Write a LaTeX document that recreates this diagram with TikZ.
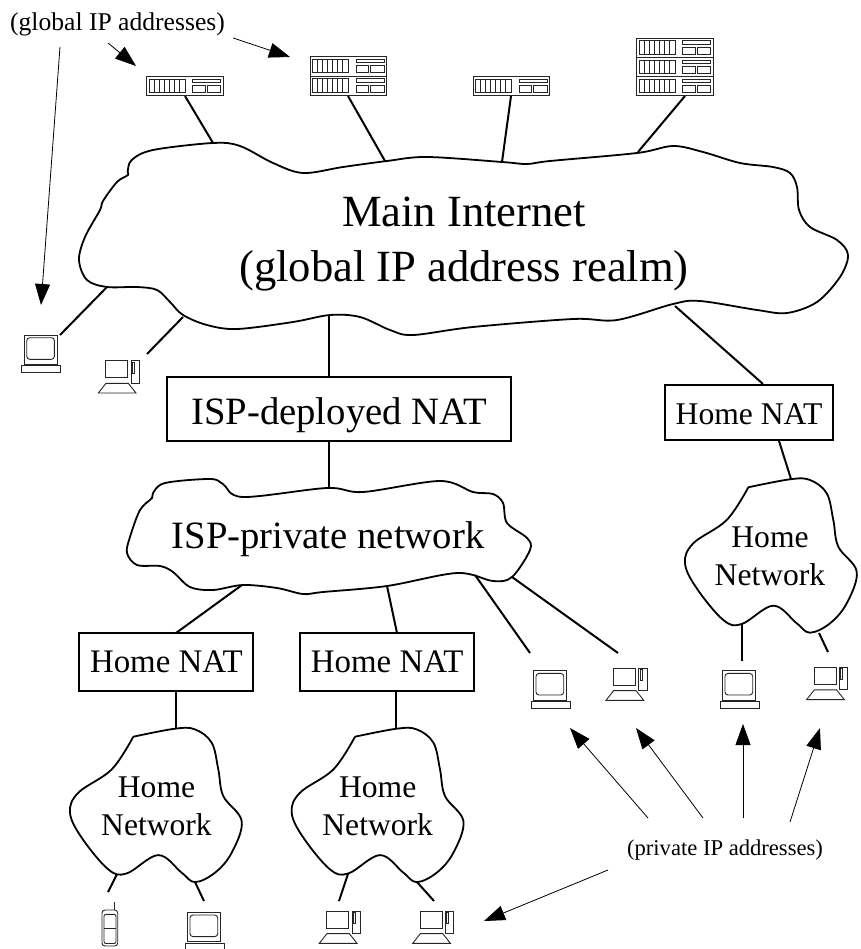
\documentclass[tikz,border=0pt]{standalone}
\usepackage{fontspec}
\setmainfont{Liberation Serif}
\usetikzlibrary{arrows.meta}
\tikzset{
  link/.style={line width=2pt,black},
  cloud line/.style={line width=1.8pt,black},
  note arrow/.style={line width=0.8pt,-{Triangle[length=21pt,width=15pt]},shorten >=0pt},
  natbox/.style={draw,line width=1.8pt,minimum height=58pt,inner sep=0pt,fill=white},
  label big/.style={anchor=base,inner sep=0pt,font=\fontsize{44.6}{48}\selectfont},
  label mid/.style={anchor=base,inner sep=0pt,font=\fontsize{38.7}{42}\selectfont},
  label nat/.style={anchor=base,inner sep=0pt,font=\fontsize{31.6}{34}\selectfont},
  label natb/.style={anchor=base,inner sep=0pt,font=\fontsize{32.9}{35}\selectfont},
  label note/.style={anchor=base,inner sep=0pt,font=\fontsize{25.6}{28}\selectfont},
  icon line/.style={line width=0.9pt,black!85},
  pics/rackunit/.style={code={
    \draw[icon line] (0,0) rectangle (76.5,19.3);
    \draw[icon line] (2.5,2.7) rectangle (38.5,16);
    \foreach \vx in {7.5,12.5,17.5,22.5,27.5,32.5}{\draw[icon line] (\vx,2.7) -- (\vx,16);}
    \draw[icon line] (46,2.7) rectangle (74,6);
    \draw[icon line] (46,9) rectangle (58.3,16);
    \draw[icon line] (60.5,9) rectangle (74,16);
  }},
  pics/termbox/.style={code={
    \draw[icon line] (2.3,0) rectangle (35.7,29.3);
    \draw[icon line,rounded corners=3pt] (5,2.7) rectangle (32.7,24.3);
    \draw[icon line] (0,30.7) rectangle (39,37.3);
  }},
  pics/desktop/.style={code={
    \draw[icon line] (7.4,0) rectangle (29.4,17);
    \draw[icon line] (32.7,0) rectangle (41,22.3);
    \draw[icon line] (34,1.6) rectangle (36,12.6);
    \draw[icon line] (0,32.3) -- (7.7,22.6) -- (30,22.6) -- (37.7,32.3) -- cycle;
  }},
  pics/phone/.style={code={
    \draw[icon line] (12.3,-8.3) -- (12.3,0);
    \draw[icon line,rounded corners=3pt] (0,0) rectangle (15.7,36);
    \draw[icon line,rounded corners=2pt] (2,4.3) rectangle (14,33.5);
    \draw[icon line] (2,18.3) -- (14,18.3);
  }},
}
\newcommand{\homecloud}{plot[smooth,tension=0.6] coordinates{
 (88.3,27.3) (130,19.3) (150,20) (166.7,33.3) (173.3,60) (178.3,86.7) (196.7,111.7)
 (186.7,143.3) (170,163.3) (150,172.7) (136.7,163.3) (113.3,145.7) (81.7,164) (63.3,160)
 (36.7,128.3) (25,103.3) (33.3,83.3) (66.7,60) (88.3,27.3)}}
\begin{document}
\begin{tikzpicture}[x=1pt,y=-1pt]
\useasboundingbox (0,0) rectangle (860,949);

% named connector ends
\foreach \nm/\px/\py in {
 s1/185/96, s1c/213/143, s2/348/96, s2c/385/161, s3/511/96, s3c/502/162, s4/685/96, s4c/638/152,
 la/60/335, lac/107/287, lb/147/354, lbc/183/317,
 ia/329/316, ib/329/377, ic/329/441, id/329/488,
 ha/675/306, hb/763/384, hc/779/441, hd/791/479,
 he/742/624, hf/742/661, hg/819/633, hh/828/652,
 pa/242/585, pb/176/633, pc/387/586, pd/397/633, pe/475/575, pf/530/653, pg/512/577, ph/618/653,
 qa/175.7/690, qb/175.7/728, qc/396/690, qd/396/728,
 ra/117/874, rb/108/892, rc/195/882, rd/204/901, re/348/874, rf/339/901, rg/417/882, rh/434/901,
 ga/60/47, gb/41/305, gc/108/43, gd/136/66, ge/233/38, gf/290/57,
 na/648/818, nb/570/728, nc/703/818, nd/636/728, ne/743/818, nf/743/724, ng/790/822, nh/820/728,
 ni/608/870, nj/484/921}
 {\coordinate (\nm) at (\px,\py);}

% main cloud
\draw[cloud line] plot[smooth cycle,tension=0.55] coordinates{
 (127.7,171.7) (131.7,160) (153,150) (213,143) (240,146) (273,163) (303,173) (343,167) (387,161)
 (427,157) (502,162) (527,164) (550,161) (637,153) (673,146) (703,152) (740,163) (773,167)
 (790,173) (797,187) (799,210) (810,227) (837,240) (848,255) (840,277) (817,302) (787,313)
 (757,310) (700,301) (673,304) (617,320) (573,319) (473,327) (413,335) (390,330) (360,317)
 (330,315) (293,322) (237,329) (207,325) (183,315) (170,302) (157,290) (137,287) (107,287)
 (87,280) (79,260) (85,237) (100,210) (103,201) (117,182) (128,175)};
% ISP cloud
\draw[cloud line] plot[smooth cycle,tension=0.55] coordinates{
 (153,493) (165,483) (210,479) (223,484) (243,497) (327,488) (363,492) (440,481) (473,492)
 (493,494) (503,503) (507,523) (527,538) (530,550) (512,577) (493,581) (457,573) (387,586)
 (323,592) (303,594) (277,588) (243,585) (213,590) (190,587) (173,572) (160,566) (137,565)
 (127,553) (130,537) (140,510) (152,498)};
% home clouds
\draw[cloud line,shift={(660,460)}] \homecloud;
\draw[cloud line,shift={(45,709.4)}] \homecloud;
\draw[cloud line,shift={(266.7,709.4)}] \homecloud;

% boxes
\node[natbox,minimum width=344pt,minimum height=64pt] (ispnat) at (339,409) {};
\node[natbox,minimum width=168pt,minimum height=55pt] (homenatr) at (749,412.5) {};
\node[natbox,minimum width=173.4pt] (homenata) at (166,661.7) {};
\node[natbox,minimum width=174pt] (homenatb) at (387,661.7) {};

% links
\foreach \u/\v in {s1/s1c,s2/s2c,s3/s3c,s4/s4c,la/lac,lb/lbc,ia/ib,ic/id,ha/hb,hc/hd,he/hf,hg/hh,
 pa/pb,pc/pd,pe/pf,pg/ph,qa/qb,qc/qd,ra/rb,rc/rd,re/rf,rg/rh}
 {\draw[link] (\u) -- (\v);}

% note arrows
\foreach \u/\v in {ga/gb,gc/gd,ge/gf,na/nb,nc/nd,ne/nf,ng/nh,ni/nj}
 {\draw[note arrow] (\u) -- (\v);}

% icons
\pic at (146.7,76.5) {rackunit};
\pic at (310,56.7) {rackunit};
\pic at (310,76.2) {rackunit};
\pic at (473,76.5) {rackunit};
\pic at (636.7,38) {rackunit};
\pic at (636.7,57.3) {rackunit};
\pic at (636.7,76.6) {rackunit};
\pic at (21.7,335) {termbox};
\pic at (531,670.7) {termbox};
\pic at (720,670.7) {termbox};
\pic at (185,912.3) {termbox};
\pic at (98.3,360.7) {desktop};
\pic at (606,668) {desktop};
\pic at (806.6,667.3) {desktop};
\pic at (319.3,911) {desktop};
\pic at (412.7,911) {desktop};
\pic at (102,910) {phone};

% labels
\node[label big] (t1) at (464,227) {Main Internet};
\node[label big] (t2) at (464,282) {(global IP address realm)};
\node[label mid] (t3) at (328,548) {ISP-private network};
\node[label mid] (t4) at (339,424) {ISP-deployed NAT};
\node[label nat] (t5) at (749,424) {Home NAT};
\node[label natb] (t6) at (166.3,672.7) {Home NAT};
\node[label natb] (t7) at (387.2,672.7) {Home NAT};
\node[label nat] (t8) at (770,547) {Home};
\node[label nat] (t9) at (770,585) {Network};
\node[label nat] (t10) at (156.5,797) {Home};
\node[label nat] (t11) at (156.5,835) {Network};
\node[label nat] (t12) at (377.7,797) {Home};
\node[label nat] (t13) at (377.7,835) {Network};
\node[label note] (t14) at (117.5,31) {(global IP addresses)};
\node[anchor=base,inner sep=0pt,font=\fontsize{22.6}{25}\selectfont] (t15) at (725,855) {(private IP addresses)};
\end{tikzpicture}
\end{document}
